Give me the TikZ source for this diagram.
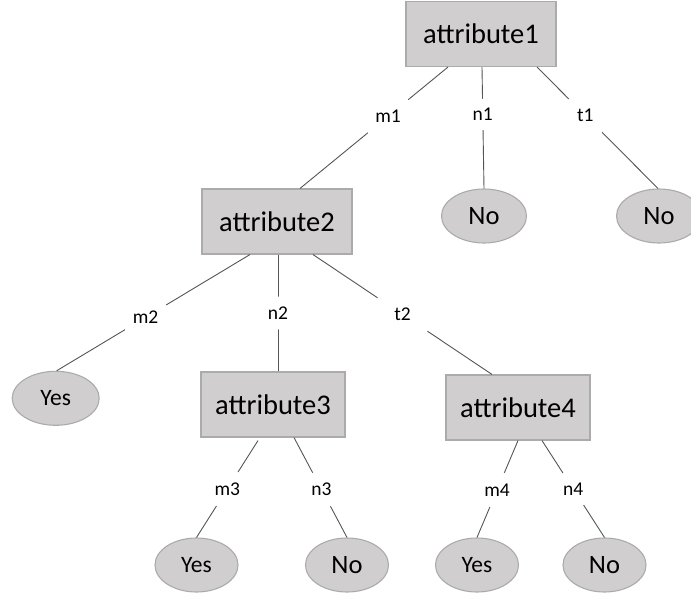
\documentclass[tikz,border=0pt]{standalone}
\usepackage{fontspec}
\setmainfont{Carlito}
\usetikzlibrary{shapes.geometric}
\definecolor{boxfill}{HTML}{D0CECE}
\definecolor{boxline}{HTML}{ABABAB}
\definecolor{conn}{HTML}{555555}
\begin{document}
\begin{tikzpicture}[x=1pt,y=-1pt,
  attrbox/.style={rectangle,fill=boxfill,draw=boxline,line width=1.1pt,minimum height=65pt,inner sep=0pt,font=\fontsize{28.5}{30}\selectfont},
  leaf/.style={ellipse,fill=boxfill,draw=boxline,line width=1.1pt,inner sep=0pt,minimum width=85pt,minimum height=54pt},
  yesfont/.style={font=\fontsize{23.5}{25}\selectfont},
  nofont/.style={font=\fontsize{26.5}{28}\selectfont},
  conn/.style={draw=conn,line width=0.9pt},
  edgelabel/.style={circle,fill=white,inner sep=0pt,font=\fontsize{19.5}{21}\selectfont}]
\useasboundingbox (0,0) rectangle (691,594);
\begin{scope}
\clip (0,0) rectangle (691,594);
% decision nodes
\node[attrbox,minimum width=150pt] (a1) at (481,34) {attribute1};
\node[attrbox,minimum width=150pt] (a2) at (277,221.5) {attribute2};
\node[attrbox,minimum width=144pt] (a3) at (273,404.5) {attribute3};
\node[attrbox,minimum width=144pt] (a4) at (518,407.5) {attribute4};
% leaves
\node[leaf,nofont] (no1) at (484,216) {No};
\node[leaf,nofont] (no2) at (659,216) {No};
\node[leaf,yesfont,minimum width=87pt] (yes1) at (55.7,398.3) {Yes};
\node[leaf,yesfont,minimum width=83pt] (yes3) at (196.5,565) {Yes};
\node[leaf,nofont,minimum width=83pt] (no3) at (347,565) {No};
\node[leaf,yesfont,minimum width=83pt] (yes4) at (477,565) {Yes};
\node[leaf,nofont,minimum width=83pt] (no4) at (604.5,565) {No};
% connectors
\draw[conn] ([xshift=-33pt]a1.south) -- node[edgelabel,pos=0.405,minimum size=52pt] {m1} ([xshift=23pt]a2.north);
\draw[conn] ([xshift=1pt]a1.south) -- node[edgelabel,pos=0.39,minimum size=31pt] {n1} (no1.north);
\draw[conn] ([xshift=56pt]a1.south) -- node[edgelabel,pos=0.40,minimum size=47pt] {t1} ([xshift=-1pt]no2.north);
\draw[conn] ([xshift=-27pt]a2.south) -- node[edgelabel,pos=0.54,minimum size=48pt] {m2} ([xshift=1pt]yes1.north);
\draw[conn] ([xshift=1pt]a2.south) -- node[edgelabel,pos=0.50,minimum size=33pt] {n2} ([xshift=5pt]a3.north);
\draw[conn] ([xshift=36pt]a2.south) -- node[edgelabel,pos=0.50,minimum size=60pt] {t2} ([xshift=-26pt]a4.north);
\draw[conn] ([xshift=-15pt,yshift=-3pt]a3.south) -- node[edgelabel,pos=0.50,minimum size=40pt] {m3} (yes3.north);
\draw[conn] ([xshift=21pt]a3.south) -- node[edgelabel,pos=0.52,minimum size=38pt] {n3} (no3.north);
\draw[conn] (a4.south) -- node[edgelabel,pos=0.51,minimum size=37pt] {m4} (yes4.north);
\draw[conn] ([xshift=24pt]a4.south) -- node[edgelabel,pos=0.50,minimum size=38pt] {n4} (no4.north);
\end{scope}
\end{tikzpicture}
\end{document}
